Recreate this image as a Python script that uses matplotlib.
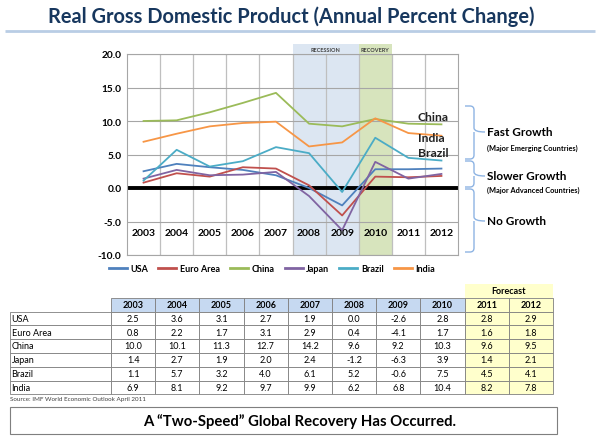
import matplotlib
matplotlib.use("Agg")
import matplotlib.pyplot as plt
from matplotlib.patches import Rectangle, PathPatch
from matplotlib.path import Path
from matplotlib.lines import Line2D

plt.rcParams['font.family'] = ['Lato', 'DejaVu Sans']

# ── data ──────────────────────────────────────────────────────────────────────
years = ["2003", "2004", "2005", "2006", "2007", "2008", "2009", "2010", "2011", "2012"]
countries = ["USA", "Euro Area", "China", "Japan", "Brazil", "India"]
usa = [2.5, 3.6, 3.1, 2.7, 1.9, 0.0, -2.6, 2.8, 2.8, 2.9]
euro_area = [0.8, 2.2, 1.7, 3.1, 2.9, 0.4, -4.1, 1.7, 1.6, 1.8]
china = [10.0, 10.1, 11.3, 12.7, 14.2, 9.6, 9.2, 10.3, 9.6, 9.5]
japan = [1.4, 2.7, 1.9, 2.0, 2.4, -1.2, -6.3, 3.9, 1.4, 2.1]
brazil = [1.1, 5.7, 3.2, 4.0, 6.1, 5.2, -0.6, 7.5, 4.5, 4.1]
india = [6.9, 8.1, 9.2, 9.7, 9.9, 6.2, 6.8, 10.4, 8.2, 7.8]
series = [usa, euro_area, china, japan, brazil, india]
colors = ["#4F81BD", "#C0504D", "#9BBB59", "#8064A2", "#4BACC6", "#F79646"]
forecast_years = ["2011", "2012"]

W, H = 600, 439
fig = plt.figure(figsize=(W / 100, H / 100), dpi=100)
fig.patch.set_facecolor("white")

# ── line chart ────────────────────────────────────────────────────────────────
ax = fig.add_axes([127 / W, 1 - 256 / H, 331 / W, 201 / H])
x = list(range(len(years)))
ax.set_xlim(-0.5, len(years) - 0.5)
ax.set_ylim(-10, 20)

# recession / recovery shading (2008-2009, 2010)
i08, i10 = years.index("2008"), years.index("2010")
ax.axvspan(i08 - 0.5, i10 - 0.5, ymin=0, ymax=1.05, color="#DCE6F2", lw=0, clip_on=False, zorder=1)
ax.axvspan(i10 - 0.5, i10 + 0.5, ymin=0, ymax=1.05, color="#D7E4BD", lw=0, clip_on=False, zorder=1)
ax.text(i08 + 0.5, 20.3, "RECESSION", ha='center', va='bottom', fontsize=4, fontweight='bold', color="#404040")
ax.text(i10, 20.3, "RECOVERY", ha='center', va='bottom', fontsize=4, fontweight='bold', color="#404040")

ax.set_yticks(range(-10, 21, 5))
ax.set_yticklabels([f"{v:.1f}" for v in range(-10, 21, 5)], fontsize=7.3, fontweight='bold')
ax.set_xticks([])
ax.tick_params(axis='y', length=0, pad=4)
ax.grid(axis='y', color="#A6A6A6", lw=0.8)
for b in [i + 0.5 for i in x[:-1]]:
    ax.axvline(b, color="#BFBFBF", lw=0.9, zorder=1.5)
for s in ax.spines.values():
    s.set_color("#A6A6A6")
    s.set_linewidth(0.8)
ax.axhline(0, color="black", lw=2.8, zorder=1.8)

for name, vals, c in zip(countries, series, colors):
    ax.plot(x, vals, color=c, lw=1.3, label=name, zorder=3)

for i, yr in enumerate(years):
    ax.text(i, -6.6, yr, ha='center', va='center', fontsize=7.5, fontweight='bold', color="black")

handles = [Line2D([], [], color=c, lw=2) for c in colors]
fig.legend(handles, countries, loc='center', bbox_to_anchor=(272 / W, 1 - 270 / H), ncol=6,
           frameon=False, prop={'size': 6.5, 'weight': 'bold'}, handlelength=2.0,
           columnspacing=1.1, handletextpad=0.4)

# overlay in pixel coordinates for title, labels, table, braces, banner
ov = fig.add_axes([0, 0, 1, 1])
ov.set_xlim(0, W)
ov.set_ylim(H, 0)
ov.axis('off')
ov.patch.set_visible(False)
ov.set_zorder(5)

# ── title ─────────────────────────────────────────────────────────────────────
ov.text(291, 17, "Real Gross Domestic Product (Annual Percent Change)",
        ha='center', va='center', fontsize=14.4, fontweight='bold', color="#17375E")
ov.plot([5, 595], [32, 32], color="#B9CDE5", lw=2, solid_capstyle='butt')

# country labels at right of plot
for lbl, yp in [("China", 118), ("India", 139), ("Brazil", 154)]:
    ov.text(418, yp, lbl, ha='left', va='center', fontsize=8.7, fontweight='bold', color="#222222")

# ── braces ────────────────────────────────────────────────────────────────────
def brace(y0, y1, ytip, xv=474, xtip=485, xend=465, r=4):
    verts = [(xend, y0), (xv - r, y0), (xv, y0), (xv, y0 + r),
             (xv, ytip - r), (xv, ytip), (xtip, ytip),
             (xv, ytip), (xv, ytip + r),
             (xv, y1 - r), (xv, y1), (xv - r, y1), (xend, y1)]
    codes = [Path.MOVETO, Path.LINETO, Path.CURVE3, Path.CURVE3,
             Path.LINETO, Path.CURVE3, Path.CURVE3,
             Path.MOVETO, Path.CURVE3,
             Path.LINETO, Path.CURVE3, Path.CURVE3, Path.LINETO]
    ov.add_patch(PathPatch(Path(verts, codes), fill=False, edgecolor="#8EB4E3", lw=1))

brace(107, 160, 133)
brace(162, 188, 177)
brace(190, 253, 222)
ov.text(487, 133, "Fast Growth", ha='left', va='center', fontsize=8.5, fontweight='bold')
ov.text(487, 148, "(Major Emerging Countries)", ha='left', va='center', fontsize=5.3, fontweight='bold')
ov.text(487, 177, "Slower Growth", ha='left', va='center', fontsize=8.5, fontweight='bold')
ov.text(487, 190, "(Major Advanced Countries)", ha='left', va='center', fontsize=5.3, fontweight='bold')
ov.text(487, 222, "No Growth", ha='left', va='center', fontsize=8.5, fontweight='bold')

# ── data table ────────────────────────────────────────────────────────────────
tx0, lab_w, col_w = 10, 101, 44.2
hy, hh, rh = 299, 13.5, 13.8
edge = "#7F7F7F"
for j, yr in enumerate(years):
    cx = tx0 + lab_w + j * col_w
    fc = "#FFFFCC" if yr in forecast_years else "#C6D9F1"
    ov.add_patch(Rectangle((cx, hy), col_w, hh, facecolor=fc, edgecolor=edge, lw=0.6))
    ov.text(cx + col_w / 2, hy + hh / 2, yr, ha='center', va='center', fontsize=6.5, fontweight='bold')
fc0 = tx0 + lab_w + years.index(forecast_years[0]) * col_w
ov.add_patch(Rectangle((fc0, hy - 14), col_w * len(forecast_years), 14, facecolor="#FFFFCC", lw=0))
ov.text(fc0 + col_w * len(forecast_years) / 2, hy - 7, "Forecast", ha='center', va='center',
        fontsize=6.5, fontweight='bold')
for i, (name, vals) in enumerate(zip(countries, series)):
    ry = hy + hh + i * rh
    ov.add_patch(Rectangle((tx0, ry), lab_w, rh, facecolor="white", edgecolor=edge, lw=0.6))
    ov.text(tx0 + 1.5, ry + rh / 2, name, ha='left', va='center', fontsize=6.5)
    for j, v in enumerate(vals):
        cx = tx0 + lab_w + j * col_w
        fc = "#FFFFCC" if years[j] in forecast_years else "white"
        ov.add_patch(Rectangle((cx, ry), col_w, rh, facecolor=fc, edgecolor=edge, lw=0.6))
        ov.text(cx + col_w / 2, ry + rh / 2, f"{v:.1f}", ha='center', va='center', fontsize=6.5)

ov.text(10, 400, "Source: IMF World Economic Outlook April 2011", ha='left', va='center',
        fontsize=4.5, color="#404040")

# ── bottom banner ─────────────────────────────────────────────────────────────
ov.add_patch(Rectangle((10, 408), 547, 27, facecolor="white", edgecolor="#7F7F7F", lw=0.8))
ov.text(300, 421.5, "A \u201cTwo-Speed\u201d Global Recovery Has Occurred.", ha='center', va='center',
        fontsize=10.7, fontweight='bold')

fig.savefig("out.png", dpi=100)
